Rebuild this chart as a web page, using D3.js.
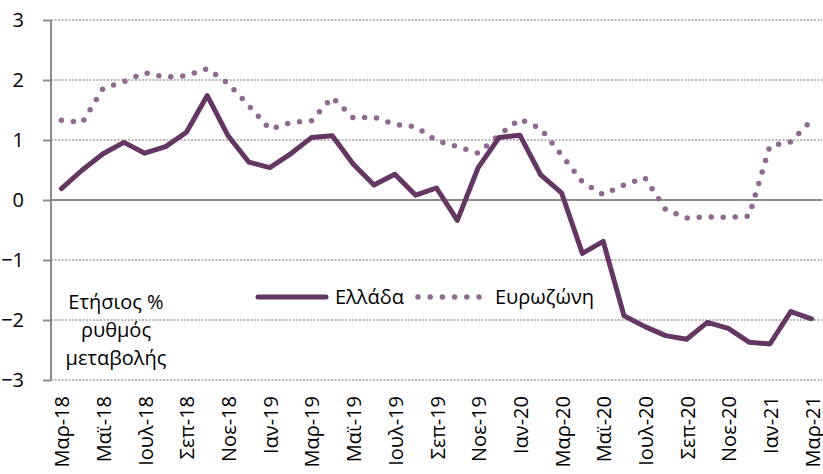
<!DOCTYPE html>
<html>
<head>
<meta charset="utf-8">
<script src="https://cdn.jsdelivr.net/npm/d3@7"></script>
<style>
  html, body { margin: 0; padding: 0; background: #fff; }
  svg { display: block; font-family: "Open Sans", sans-serif; }
</style>
</head>
<body>
<svg id="chart" width="823" height="474"></svg>
<script>
const months = ["Μαρ-18","Απρ-18","Μαϊ-18","Ιουν-18","Ιουλ-18","Αυγ-18","Σεπ-18","Οκτ-18","Νοε-18","Δεκ-18",
  "Ιαν-19","Φεβ-19","Μαρ-19","Απρ-19","Μαϊ-19","Ιουν-19","Ιουλ-19","Αυγ-19","Σεπ-19","Οκτ-19","Νοε-19","Δεκ-19",
  "Ιαν-20","Φεβ-20","Μαρ-20","Απρ-20","Μαϊ-20","Ιουν-20","Ιουλ-20","Αυγ-20","Σεπ-20","Οκτ-20","Νοε-20","Δεκ-20",
  "Ιαν-21","Φεβ-21","Μαρ-21"];
const tickLabels = ["Μαρ-18","Μαϊ-18","Ιουλ-18","Σεπ-18","Νοε-18","Ιαν-19","Μαρ-19","Μαϊ-19","Ιουλ-19","Σεπ-19",
  "Νοε-19","Ιαν-20","Μαρ-20","Μαϊ-20","Ιουλ-20","Σεπ-20","Νοε-20","Ιαν-21","Μαρ-21"];
const greece = [0.19, 0.5, 0.77, 0.96, 0.78, 0.89, 1.13, 1.74, 1.07, 0.63, 0.54, 0.77, 1.04, 1.07, 0.6, 0.25, 0.43, 0.08,
  0.2, -0.34, 0.54, 1.04, 1.08, 0.42, 0.12, -0.89, -0.69, -1.93, -2.11, -2.26, -2.32, -2.04, -2.14, -2.37, -2.40, -1.86, -1.98];
const eurozone = [1.33, 1.29, 1.86, 1.97, 2.12, 2.05, 2.07, 2.19, 1.94, 1.57, 1.18, 1.29, 1.32, 1.71, 1.37, 1.38, 1.26, 1.22,
  0.99, 0.89, 0.78, 1.08, 1.35, 1.19, 0.75, 0.30, 0.09, 0.25, 0.37, -0.16, -0.30, -0.28, -0.29, -0.27, 0.9, 0.97, 1.33];
const yTicks = [-3, -2, -1, 0, 1, 2, 3];
const seriesNames = ["Ελλάδα", "Ευρωζώνη"];
const yTitle = ["Ετήσιος %", "ρυθμός", "μεταβολής"];

const cGreece = "#643763", cEuro = "#8f6a8e", cAxis = "#8c8c8c";
const svg = d3.select("#chart");
const x = d3.scaleBand().domain(months).range([51, 822]);
const xc = m => x(m) + x.bandwidth() / 2;
const y = d3.scaleLinear().domain([-3, 3]).range([380, 20]);

// gridlines
svg.append("g").selectAll("line").data(yTicks.filter(d => d !== 0)).join("line")
  .attr("x1", 51).attr("x2", 822).attr("y1", d => y(d)).attr("y2", d => y(d))
  .attr("stroke", "#a0a0a0").attr("stroke-width", 1.3).attr("stroke-dasharray", "2 1.5");

// y axis
const yAxis = d3.axisLeft(y).tickValues(yTicks).tickSize(8).tickPadding(19).tickFormat(d3.format("d"));
const ya = svg.append("g").attr("transform", "translate(51,0)").call(yAxis);
ya.select(".domain").attr("stroke", cAxis).attr("stroke-width", 2).attr("d", "M0,20V380");
ya.selectAll(".tick line").attr("stroke", cAxis).attr("stroke-width", 2);
ya.selectAll(".tick text").attr("font-size", 20).attr("fill", "#000").attr("font-family", "Open Sans, sans-serif");

// zero line
svg.append("line").attr("x1", 51).attr("x2", 822).attr("y1", y(0)).attr("y2", y(0))
  .attr("stroke", cAxis).attr("stroke-width", 2);

// x labels
const xAxis = d3.axisBottom(x).tickValues(tickLabels).tickSize(0).tickPadding(0);
const xa = svg.append("g").attr("transform", "translate(0,380)").call(xAxis);
xa.select(".domain").remove();
xa.selectAll(".tick text")
  .attr("font-size", 20).attr("fill", "#000").attr("font-family", "Open Sans, sans-serif")
  .attr("transform", "translate(1,16) rotate(-90)")
  .attr("text-anchor", "end").attr("x", 0).attr("y", 0).attr("dy", "0.35em");

// lines
const line = d3.line().x((d, i) => xc(months[i])).y(d => y(d));
svg.append("path").datum(eurozone).attr("d", line).attr("fill", "none")
  .attr("stroke", cEuro).attr("stroke-width", 5.5).attr("stroke-linecap", "round")
  .attr("stroke-dasharray", "0 12");
svg.append("path").datum(greece).attr("d", line).attr("fill", "none")
  .attr("stroke", cGreece).attr("stroke-width", 5).attr("stroke-linejoin", "round").attr("stroke-linecap", "round");

// legend
const lg = svg.append("g");
lg.append("line").attr("x1", 258).attr("x2", 326).attr("y1", 297).attr("y2", 297)
  .attr("stroke", cGreece).attr("stroke-width", 5).attr("stroke-linecap", "round");
lg.append("text").attr("x", 335).attr("y", 304).attr("font-size", 20).text(seriesNames[0]);
lg.append("line").attr("x1", 418).attr("x2", 480).attr("y1", 297).attr("y2", 297)
  .attr("stroke", cEuro).attr("stroke-width", 5.5).attr("stroke-linecap", "round").attr("stroke-dasharray", "0 12.2");
lg.append("text").attr("x", 495).attr("y", 304).attr("font-size", 20).text(seriesNames[1]);

// y title
svg.append("g").selectAll("text").data(yTitle).join("text")
  .attr("x", 116).attr("y", (d, i) => 309 + i * 28).attr("text-anchor", "middle")
  .attr("font-size", 20).text(d => d);
</script>
</body>
</html>
